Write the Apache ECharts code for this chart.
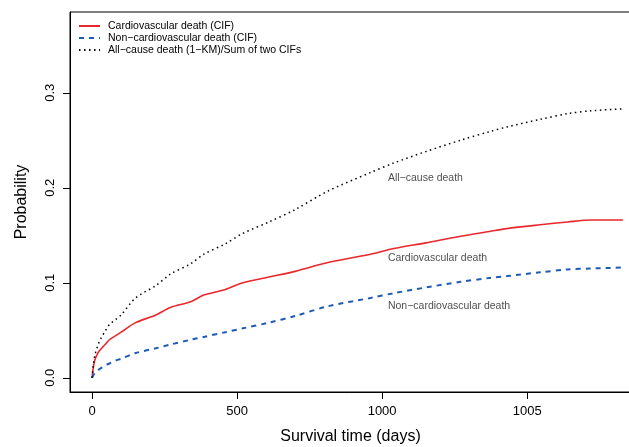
<!DOCTYPE html>
<html>
<head>
<meta charset="utf-8">
<script src="https://cdn.jsdelivr.net/npm/echarts@6/dist/echarts.min.js"></script>
<style>
  html, body { margin: 0; padding: 0; background: #fff; }
  #main { width: 629px; height: 447px; }
</style>
</head>
<body>
<div id="main"></div>
<script>
// survival time in days
const days = [0, 5, 10, 20, 30, 45, 60, 80, 100, 150, 220, 270, 340, 385, 460, 520, 610, 700, 810, 960, 1040, 1150, 1270, 1370, 1430, 1545, 1640, 1720, 1830];
// cumulative incidence, cardiovascular death
const cvDeath = [0, 0.012, 0.019, 0.026, 0.030, 0.035, 0.040, 0.044, 0.048, 0.058, 0.066, 0.074, 0.080, 0.087, 0.093, 0.100, 0.106, 0.112, 0.121, 0.130, 0.136, 0.142, 0.149, 0.154, 0.157, 0.161, 0.164, 0.166, 0.166];
// cumulative incidence, non-cardiovascular death
const nonCvDeath = [0, 0.003, 0.005, 0.008, 0.010, 0.013, 0.015, 0.018, 0.020, 0.026, 0.031, 0.035, 0.040, 0.043, 0.048, 0.052, 0.058, 0.065, 0.075, 0.084, 0.089, 0.095, 0.101, 0.105, 0.107, 0.111, 0.114, 0.115, 0.116];
// all-cause death (1-KM)
const allDeath = [0, 0.015, 0.024, 0.034, 0.041, 0.049, 0.056, 0.061, 0.066, 0.084, 0.097, 0.109, 0.120, 0.130, 0.141, 0.152, 0.164, 0.177, 0.196, 0.216, 0.226, 0.238, 0.250, 0.259, 0.264, 0.272, 0.278, 0.281, 0.283];

const xTicks = [0, 500, 1000, 1500];
const xTickLabels = ['0', '500', '1000', '1005'];
const yTicks = [0, 0.1, 0.2, 0.3];

// text labels in the plot
const notes = [
  [1020, 0.2100, 'All\u2212cause death'],
  [1020, 0.1262, 'Cardiovascular death'],
  [1020, 0.0755, 'Non\u2212cardiovascular death']
];

const pairs = (ys) => days.map((d, i) => [d, ys[i]]);
const font = '"Liberation Sans", Arial, Helvetica, sans-serif';

var myChart = echarts.init(document.getElementById('main'));
myChart.setOption({
  animation: false,
  textStyle: { fontFamily: font },
  grid: {
    left: 70, top: 12, right: -2, bottom: 55,
    outerBoundsMode: 'none', containLabel: false,
    show: true, borderColor: '#000', borderWidth: 1
  },
  legend: {
    orient: 'vertical',
    left: 73, top: 15,
    itemWidth: 21, itemHeight: 8, itemGap: 0,
    itemStyle: { opacity: 0 },
    textStyle: { fontSize: 10.5, lineHeight: 12, color: '#000', fontFamily: font, padding: [0, 0, 0, 3] },
    data: ['Cardiovascular death (CIF)', 'Non\u2212cardiovascular death (CIF)', 'All\u2212cause death (1\u2212KM)/Sum of two CIFs']
  },
  xAxis: {
    type: 'value',
    min: -76, max: 1858,
    name: 'Survival time (days)',
    nameLocation: 'middle', nameGap: 37,
    nameTextStyle: { fontSize: 16, color: '#000', fontFamily: font },
    splitLine: { show: false },
    axisLine: { onZero: false, lineStyle: { color: '#000' } },
    axisTick: { customValues: xTicks, length: 7, lineStyle: { color: '#000' } },
    axisLabel: {
      customValues: xTicks, fontSize: 13, color: '#000', margin: 13,
      formatter: (v) => xTickLabels[xTicks.indexOf(v)]
    }
  },
  yAxis: {
    type: 'value',
    min: -0.015, max: 0.385,
    name: 'Probability',
    nameLocation: 'middle', nameGap: 40,
    nameTextStyle: { fontSize: 16, color: '#000', fontFamily: font },
    splitLine: { show: false },
    axisLine: { onZero: false, lineStyle: { color: '#000' } },
    axisTick: { customValues: yTicks, length: 7, lineStyle: { color: '#000' } },
    axisLabel: {
      customValues: yTicks, fontSize: 13, color: '#000', margin: 13, rotate: 90,
      formatter: (v) => v.toFixed(1)
    }
  },
  series: [
    {
      name: 'Cardiovascular death (CIF)',
      type: 'line', showSymbol: false, symbol: 'none', smooth: 0.3,
      data: pairs(cvDeath),
      lineStyle: { color: '#e8282c', width: 1.6, type: 'solid' },
      itemStyle: { color: '#e8282c' }
    },
    {
      name: 'Non\u2212cardiovascular death (CIF)',
      type: 'line', showSymbol: false, symbol: 'none', smooth: 0.3,
      data: pairs(nonCvDeath),
      lineStyle: { color: '#1f5bb5', width: 2, type: [5, 5] },
      itemStyle: { color: '#1f5bb5' }
    },
    {
      name: 'All\u2212cause death (1\u2212KM)/Sum of two CIFs',
      type: 'line', showSymbol: false, symbol: 'none', smooth: 0.3,
      data: pairs(allDeath),
      lineStyle: { color: '#000', width: 1.5, type: [1.5, 3.5] },
      itemStyle: { color: '#000' }
    },
    {
      name: 'notes',
      type: 'scatter', symbolSize: 0, silent: true,
      data: notes,
      label: {
        show: true, position: 'right', distance: 0,
        fontSize: 10.5, color: '#222', fontFamily: font,
        formatter: (p) => p.value[2]
      }
    }
  ]
});
</script>
</body>
</html>
